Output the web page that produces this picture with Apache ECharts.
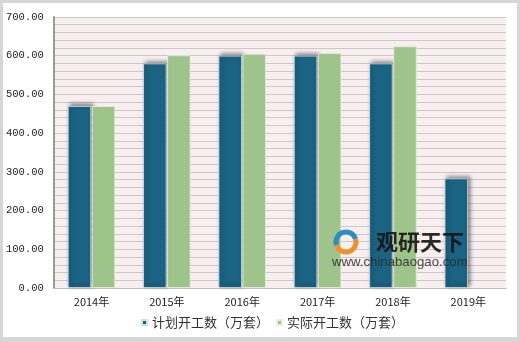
<!DOCTYPE html>
<html><head><meta charset="utf-8">
<script src="https://cdn.jsdelivr.net/npm/echarts@6/dist/echarts.min.js"></script>
<style>
html,body{margin:0;padding:0;background:#fff;}
#c{width:520px;height:342px;box-sizing:border-box;border:3px solid #d6d6d6;border-bottom-width:5px;}
</style></head>
<body><div id="c"></div>
<script>
const categories = ['2014年','2015年','2016年','2017年','2018年','2019年'];
const planned = [470, 580, 600, 600, 580, 283];
const actual = [470, 601, 605, 607, 624, null];
const seriesNames = ['计划开工数（万套）','实际开工数（万套）'];

const chart = echarts.init(document.getElementById('c'));
chart.setOption({
  animation:false,
  grid:{left:49,right:11,top:14,bottom:49,backgroundColor:'#f9eff0',show:true,borderWidth:0},
  legend:{bottom:3,left:133,itemWidth:5,itemHeight:5,itemGap:7,icon:'rect',
    textStyle:{fontSize:13,color:'#333',fontFamily:'Noto Sans CJK SC'},
    data:seriesNames},
  xAxis:{type:'category',data:categories,
    axisLine:{lineStyle:{color:'#bdbdbd',width:1}},axisTick:{show:false},
    axisLabel:{fontSize:11,color:'#222',margin:8,fontFamily:'Noto Sans CJK SC'}},
  yAxis:{type:'value',min:0,max:700,interval:100,
    axisLine:{show:true,lineStyle:{color:'#9a9a9a',width:2}},
    axisLabel:{fontSize:10.5,color:'#222',margin:10,formatter:v=>v.toFixed(2),fontFamily:'Liberation Mono'},
    splitLine:{lineStyle:{color:'#c9c9c9',width:1}},
    minorTick:{show:false,splitNumber:5},
    minorSplitLine:{show:true,lineStyle:{color:'#c9c9c9',width:1}}},
  series:[
    {name:seriesNames[0],type:'bar',data:planned,barWidth:'31%',barGap:'3%',
      itemStyle:{color:'#1b6383',borderColor:'#cfe0ea',borderWidth:0.8,
        shadowBlur:4,shadowColor:'rgba(0,0,0,0.45)',shadowOffsetX:2,shadowOffsetY:-2}},
    {name:seriesNames[1],type:'bar',data:actual,barWidth:'31%',
      itemStyle:{color:'#9ec48c',borderColor:'#e6f0df',borderWidth:0.8}}
  ],
  graphic:[
    {type:'text',z:100,left:373,top:228,style:{text:'观研天下',fontSize:22,fontWeight:'bold',fill:'rgba(20,20,20,0.9)',fontFamily:'Noto Sans CJK SC'}},
    {type:'text',z:100,left:329,top:253,style:{text:'www.chinabaogao.com',fontSize:13.2,fill:'rgba(40,40,40,0.85)',fontFamily:'Liberation Sans'}},
    {type:'arc',z:100,shape:{cx:343,cy:239,r:10,startAngle:Math.PI*0.9,endAngle:Math.PI*1.9},style:{stroke:'#2a8fc0',lineWidth:5,fill:null}},
    {type:'arc',z:100,shape:{cx:343,cy:239,r:10,startAngle:-Math.PI*0.1,endAngle:Math.PI*0.9},style:{stroke:'#f0902a',lineWidth:5,fill:null}}
  ]
});
</script></body></html>
